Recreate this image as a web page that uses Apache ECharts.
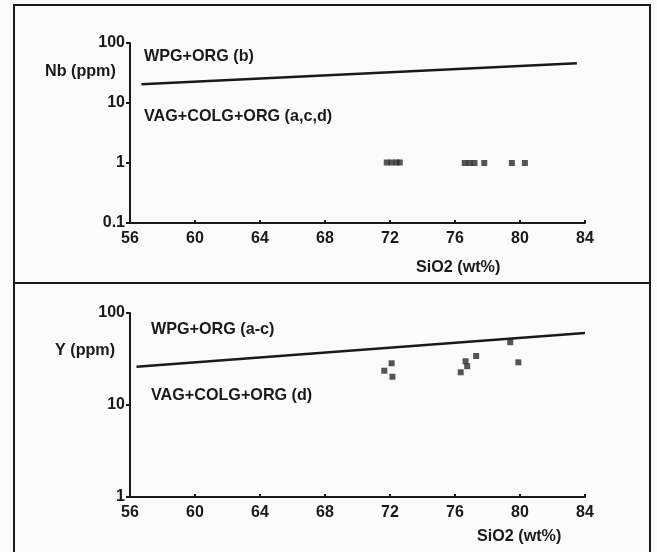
<!DOCTYPE html>
<html>
<head>
    <meta charset="utf-8">
    <title>Nb / Y vs SiO2</title>
    <script src="https://cdn.jsdelivr.net/npm/echarts@6/dist/echarts.min.js"></script>
    <style type="text/css">
    html, body { margin: 0; padding: 0; background: #fbfbfb; }
    #main { width: 657px; height: 552px; }
    </style>
</head>
<body>
    <div id="main"></div>
    <script type="text/javascript">
        // x axis ticks (SiO2 wt%)
        var xTicks = [56, 60, 64, 68, 72, 76, 80, 84];

        // top panel: Nb (ppm) discrimination line and samples
        var nbLine = [[56.7, 20.5], [83.5, 46]];
        var nbSio2 = [71.8, 72.1, 72.4, 72.6, 76.6, 76.9, 77.2, 77.8, 79.5, 80.3];
        var nbValues = [1.02, 1.02, 1.02, 1.02, 1, 1, 1, 1, 1, 1];

        // bottom panel: Y (ppm) discrimination line and samples
        var yLine = [[56.4, 26.1], [84, 60.6]];
        var ySio2 = [71.65, 72.1, 72.15, 76.35, 76.65, 76.75, 77.3, 79.4, 79.9];
        var yValues = [23.6, 28.4, 20.3, 22.7, 29.9, 26.4, 34.1, 48.1, 29.1];

        var FONT = '"Liberation Sans", Arial, sans-serif';
        var INK = '#1a1a1a';

        function pairs(xs, ys) {
            var out = [];
            for (var i = 0; i < xs.length; i++) out.push([xs[i], ys[i]]);
            return out;
        }

        function xAxisFor(idx) {
            return {
                gridIndex: idx, type: 'value', min: xTicks[0], max: xTicks[xTicks.length - 1],
                interval: xTicks[1] - xTicks[0],
                axisLine: { onZero: false, lineStyle: { color: INK, width: 2 } },
                axisTick: { inside: true, length: 3, lineStyle: { color: INK, width: 2 } },
                axisLabel: { color: INK, fontFamily: FONT, fontSize: 16, fontWeight: 'bold', margin: 8 },
                splitLine: { show: false }
            };
        }

        function yAxisFor(idx, min) {
            return {
                gridIndex: idx, type: 'log', logBase: 10, min: min, max: 100,
                axisLine: { show: true, lineStyle: { color: INK, width: 2 } },
                axisTick: { show: true, length: 4, lineStyle: { color: INK, width: 2 } },
                minorTick: { show: false },
                axisLabel: {
                    color: INK, fontFamily: FONT, fontSize: 16, fontWeight: 'bold', margin: 5,
                    formatter: function (v) { return v < 1 ? v.toFixed(1) : String(Math.round(v)); }
                },
                splitLine: { show: false }
            };
        }

        // text label, y is the vertical centre of the text
        function label(x, y, text) {
            return {
                type: 'text', x: x, y: y, scaleX: 0.95,
                style: {
                    text: text, fill: INK, fontFamily: FONT, fontSize: 17, fontWeight: 'bold',
                    verticalAlign: 'middle'
                }
            };
        }

        var myChart = echarts.init(document.getElementById('main'));
        var option = {
            backgroundColor: '#fbfbfb',
            animation: false,
            grid: [
                { left: 130, top: 43, width: 455, height: 180 },
                { left: 130, top: 313, width: 455, height: 184 }
            ],
            xAxis: [xAxisFor(0), xAxisFor(1)],
            yAxis: [yAxisFor(0, 0.1), yAxisFor(1, 1)],
            graphic: [
                { type: 'rect', shape: { x: 14, y: 5, width: 636, height: 560 },
                  style: { fill: 'none', stroke: INK, lineWidth: 2 } },
                { type: 'line', shape: { x1: 14, y1: 283, x2: 650, y2: 283 },
                  style: { stroke: INK, lineWidth: 2 } },
                label(45, 71, 'Nb (ppm)'),
                label(144, 56, 'WPG+ORG (b)'),
                label(144, 116, 'VAG+COLG+ORG (a,c,d)'),
                label(416, 267, 'SiO2 (wt%)'),
                label(55, 350, 'Y (ppm)'),
                label(151, 329, 'WPG+ORG (a-c)'),
                label(151, 395, 'VAG+COLG+ORG (d)'),
                label(477, 536, 'SiO2 (wt%)')
            ],
            series: [
                { type: 'line', xAxisIndex: 0, yAxisIndex: 0, data: nbLine, symbol: 'none',
                  lineStyle: { color: INK, width: 2.5 } },
                { type: 'scatter', xAxisIndex: 0, yAxisIndex: 0, data: pairs(nbSio2, nbValues),
                  symbol: 'rect', symbolSize: 6, itemStyle: { color: '#2a2a2a' } },
                { type: 'line', xAxisIndex: 1, yAxisIndex: 1, data: yLine, symbol: 'none',
                  lineStyle: { color: INK, width: 2.5 } },
                { type: 'scatter', xAxisIndex: 1, yAxisIndex: 1, data: pairs(ySio2, yValues),
                  symbol: 'rect', symbolSize: 6, itemStyle: { color: '#2a2a2a' } }
            ]
        };
        myChart.setOption(option);
    </script>
</body>
</html>
